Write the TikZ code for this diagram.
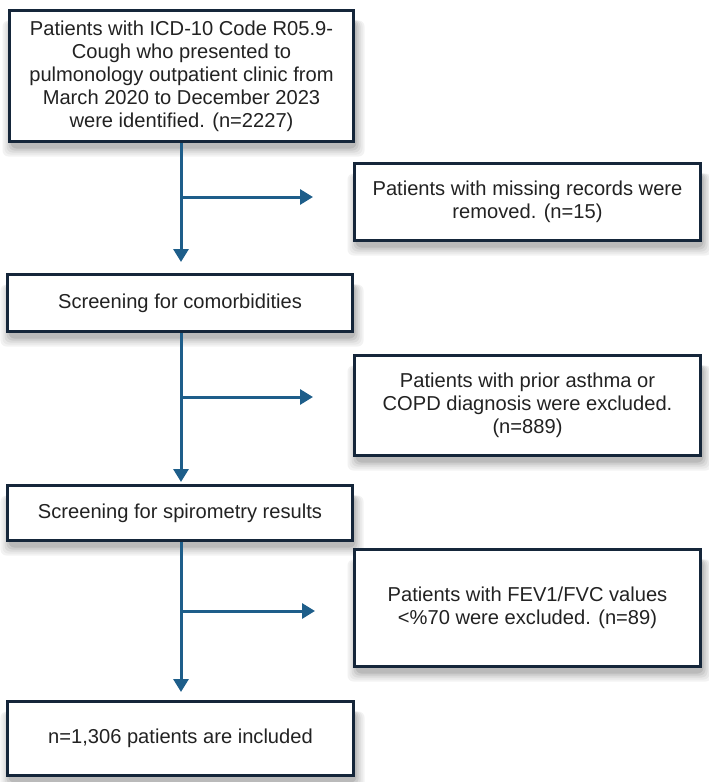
\documentclass[tikz,border=0pt]{standalone}
\usepackage{fontspec}
\setmainfont{Liberation Sans}
\usetikzlibrary{arrows.meta}
\definecolor{frame}{HTML}{15263A}
\definecolor{flow}{HTML}{1E5E8A}
\definecolor{ink}{HTML}{222222}
\begin{document}
\begin{tikzpicture}[x=1bp,y=-1bp,
  box/.style={draw=frame, line width=3bp, fill=white, text=ink, align=center,
    font=\fontsize{20.2}{23}\selectfont, inner sep=0pt},
  flowline/.style={draw=flow, line width=3bp},
  flowarrow/.style={flowline, -{Triangle[width=15bp,length=13bp]}}]
\useasboundingbox (0,0) rectangle (709,782);

% soft shadow under a box: nested grey rectangles, darkest innermost
% (#1,#2) top-left corner, (#3,#4) bottom-right corner of the box outline
\newcommand{\boxshadow}[4]{%
  \foreach \k/\g in {10/5,8/9,6/14,4/20,2/27}{%
    \fill[black!\g, rounded corners=6bp]
      (#1+3-\k,#2+10) rectangle (#3+1+\k,#4+5+\k);
  }%
}
\boxshadow{9.5}{10.5}{353.5}{141.5}
\boxshadow{7.5}{274.5}{352.5}{331.5}
\boxshadow{7.5}{485.5}{352.5}{540.5}
\boxshadow{7.5}{701.5}{353.5}{775.5}
\boxshadow{354.5}{163.5}{700.5}{240.5}
\boxshadow{354.5}{355.5}{700.5}{455.5}
\boxshadow{354.5}{549.5}{700.5}{666.5}

% main column
\node[box, minimum width=344bp, minimum height=131bp] (b1) at (181.5,76)
  {Patients with ICD-10 Code R05.9-\\Cough who presented to\\pulmonology outpatient clinic from\\March 2020 to December 2023\\were identified. (n=2227)};
\node[box, minimum width=345bp, minimum height=57bp] (b3) at (180,303)
  {Screening for comorbidities};
\node[box, minimum width=345bp, minimum height=55bp] (b5) at (180,513)
  {Screening for spirometry results};
\node[box, minimum width=346bp, minimum height=74bp] (b7) at (180.5,738.5)
  {n=1,306 patients are included};

% exclusion boxes
\node[box, minimum width=346bp, minimum height=77bp] (b2) at (527.5,202)
  {Patients with missing records were\\removed. (n=15)};
\node[box, minimum width=346bp, minimum height=100bp] (b4) at (527.5,405.5)
  {Patients with prior asthma or\\COPD diagnosis were excluded.\\(n=889)};
\node[box, minimum width=346bp, minimum height=117bp] (b6) at (527.5,608)
  {Patients with FEV1/FVC values\\<\%70 were excluded. (n=89)};

% branch points on the main line
\coordinate (j1) at (181,197);
\coordinate (j2) at (181,397);
\coordinate (j3) at (181,611);

% connectors
\draw[flowarrow, shorten >=11bp] (b1.south -| j1) -- (b3.north -| j1);
\draw[flowarrow, shorten >=40bp] (j1) -- (b2.west |- j1);
\draw[flowarrow, shorten >=2bp] (b3.south -| j2) -- (b5.north -| j2);
\draw[flowarrow, shorten >=40bp] (j2) -- (b4.west |- j2);
\draw[flowarrow, shorten >=8bp] (b5.south -| j3) -- (b7.north -| j3);
\draw[flowarrow, shorten >=38bp] (j3) -- (b6.west |- j3);
\end{tikzpicture}
\end{document}
